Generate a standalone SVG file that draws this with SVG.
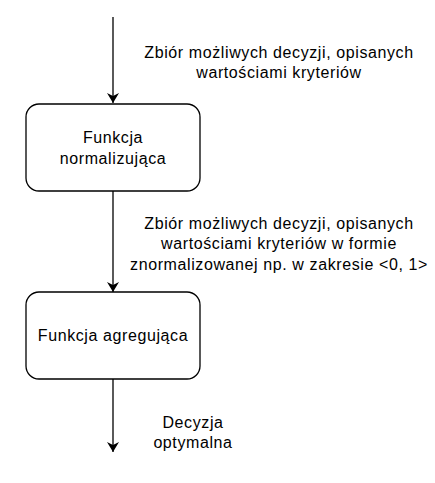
<svg xmlns="http://www.w3.org/2000/svg" width="435" height="483" viewBox="0 0 435 483">
<style>
.box{fill:#fff;stroke:#000;stroke-width:1.3}
.t{font-family:"Liberation Sans",Arial,sans-serif;font-size:16px;letter-spacing:0.6px;fill:#000;text-anchor:middle}
.e{stroke:#000;stroke-width:1.3;fill:none}
</style>
<defs>
<marker id="ah" markerWidth="12" markerHeight="12" refX="10" refY="6" orient="auto" markerUnits="userSpaceOnUse">
<path d="M0,0 L10,6 L0,12 L3,6 Z" fill="#000"/>
</marker>
</defs>
<rect width="435" height="483" fill="#fff"/>
<g id="connectors">
<line class="e" x1="113" y1="17" x2="113" y2="103" marker-end="url(#ah)"/>
<line class="e" x1="113" y1="191" x2="113" y2="292" marker-end="url(#ah)"/>
<line class="e" x1="113" y1="379" x2="113" y2="452" marker-end="url(#ah)"/>
</g>
<g id="node1">
<rect class="box" x="26" y="104" width="174" height="87" rx="13"/>
<text class="t" x="113" y="143">Funkcja</text>
<text class="t" x="113" y="164">normalizująca</text>
</g>
<g id="node2">
<rect class="box" x="26" y="292" width="174" height="87" rx="13"/>
<text class="t" x="113" y="341">Funkcja agregująca</text>
</g>
<g id="label1">
<text class="t" x="279" y="58">Zbiór możliwych decyzji, opisanych</text>
<text class="t" x="279" y="78">wartościami kryteriów</text>
</g>
<g id="label2">
<text class="t" x="279" y="229">Zbiór możliwych decyzji, opisanych</text>
<text class="t" x="279" y="249">wartościami kryteriów w formie</text>
<text class="t" x="279" y="270">znormalizowanej np. w zakresie &lt;0, 1&gt;</text>
</g>
<g id="label3">
<text class="t" x="193" y="428">Decyzja</text>
<text class="t" x="193" y="448">optymalna</text>
</g>
</svg>
